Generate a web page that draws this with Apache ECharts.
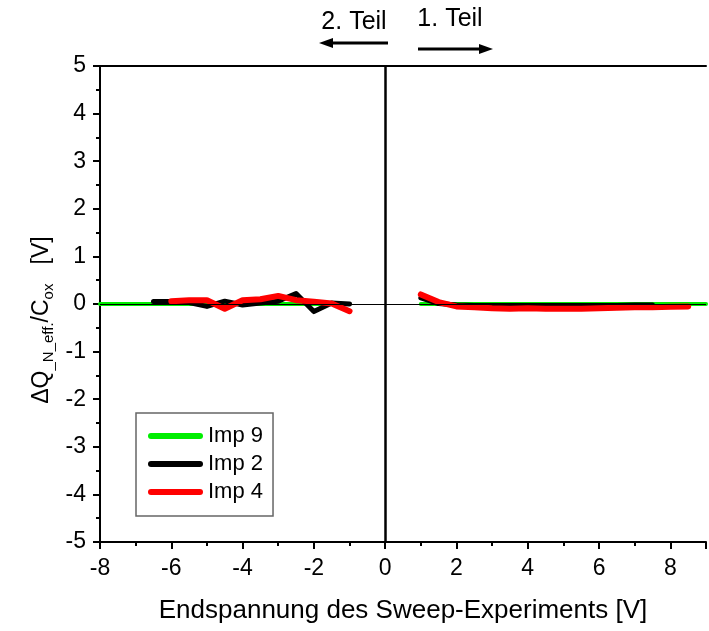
<!DOCTYPE html>
<html>
<head>
<meta charset="utf-8">
<script src="https://cdn.jsdelivr.net/npm/echarts@6/dist/echarts.min.js"></script>
<style>
html,body{margin:0;padding:0;background:#fff;}
#c{width:709px;height:631px;}
</style>
</head>
<body>
<div id="c"></div>
<script>
// ---- data ----
const xImp9Left  = [-8, -1];
const imp9Left   = [0, 0];
const xImp9Right = [1, 9];
const imp9Right  = [0, 0];

const xImp2Left  = [-6.5, -6, -5.5, -5, -4.5, -4, -3.5, -3, -2.5, -2, -1.5, -1];
const imp2Left   = [0.05, 0.05, 0.03, -0.05, 0.06, -0.02, 0.02, 0.06, 0.22, -0.16, 0.02, 0.0];
const xImp2Right = [1, 1.5, 2, 2.5, 3, 3.5, 4, 4.5, 5, 5.5, 6, 6.5, 7, 7.5];
const imp2Right  = [0.13, 0.01, -0.02, -0.03, -0.03, -0.03, -0.03, -0.03, -0.03, -0.03, -0.03, -0.03, -0.02, -0.02];

const xImp4Left  = [-6, -5.5, -5, -4.5, -4, -3.5, -3, -2.5, -2, -1.5, -1];
const imp4Left   = [0.06, 0.08, 0.08, -0.1, 0.08, 0.1, 0.17, 0.08, 0.05, 0.01, -0.15];
const xImp4Right = [1, 1.5, 2, 2.5, 3, 3.5, 4, 4.5, 5, 5.5, 6, 6.5, 7, 7.5, 8, 8.5];
const imp4Right  = [0.2, 0.04, -0.05, -0.07, -0.09, -0.1, -0.09, -0.1, -0.1, -0.1, -0.09, -0.08, -0.07, -0.07, -0.06, -0.05];

const seriesNames = ['Imp 9', 'Imp 2', 'Imp 4'];
const seriesColors = ['#00ee00', '#000000', '#ff0000'];
const xTitle = 'Endspannung des Sweep-Experiments [V]';
const leftNote = '2. Teil';
const rightNote = '1. Teil';

const FONT = '"Liberation Sans", Arial, Helvetica, sans-serif';
function pairs(xs, ys) { return xs.map((x, i) => [x, ys[i]]); }

function mkSeries(name, color, width, xs, ys, extra) {
  return Object.assign({
    name: name,
    type: 'line',
    data: pairs(xs, ys),
    symbol: 'none',
    showSymbol: false,
    color: color,
    lineStyle: { color: color, width: width, cap: 'round', join: 'round' },
    silent: true,
    clip: true,
    animation: false
  }, extra || {});
}

const LEGEND_ICON = 'path://M3,0 L52,0 A3,3 0 0 1 52,6 L3,6 A3,3 0 0 1 3,0 Z';

const chart = echarts.init(document.getElementById('c'), null, { renderer: 'canvas' });

const option = {
  animation: false,
  backgroundColor: '#fff',
  textStyle: { fontFamily: FONT },
  grid: { left: 100, top: 66, right: -7, bottom: 89, containLabel: false },
  xAxis: [{
    type: 'value', min: -8, max: 9, interval: 2,
    position: 'bottom',
    name: xTitle, nameLocation: 'middle', nameGap: 56,
    nameTextStyle: { fontSize: 26, color: '#000', fontFamily: FONT },
    axisLine: { show: true, onZero: false, lineStyle: { color: '#000', width: 2 } },
    axisTick: { show: true, inside: false, length: 7, lineStyle: { color: '#000', width: 2 } },
    minorTick: { show: true, splitNumber: 2, length: 4, lineStyle: { color: '#000', width: 2 } },
    axisLabel: { margin: 15, fontSize: 23, color: '#000', fontFamily: FONT,
      formatter: v => (v > 8.5 ? '' : String(v)) },
    splitLine: { show: false }
  }, {
    type: 'value', min: -8, max: 9, interval: 2,
    position: 'top',
    axisLine: { show: true, onZero: false, lineStyle: { color: '#000', width: 2 } },
    axisTick: { show: false }, axisLabel: { show: false }, splitLine: { show: false }
  }],
  yAxis: [{
    type: 'value', min: -5, max: 5, interval: 1,
    axisLine: { show: true, onZero: false, lineStyle: { color: '#000', width: 2 } },
    axisTick: { show: true, inside: false, length: 7, lineStyle: { color: '#000', width: 2 } },
    minorTick: { show: true, splitNumber: 2, length: 4, lineStyle: { color: '#000', width: 2 } },
    axisLabel: { margin: 14, fontSize: 23, color: '#000', fontFamily: FONT },
    splitLine: { show: false }
  }],
  legend: {
    show: true,
    left: 136, top: 413,
    orient: 'vertical',
    data: seriesNames.map((n, i) => ({ name: n, icon: LEGEND_ICON, itemStyle: { color: seriesColors[i] } })),
    itemWidth: 55, itemHeight: 6, itemGap: 4,
    padding: [11, 10, 12, 12],
    borderColor: '#666', borderWidth: 1.5,
    backgroundColor: '#fff',
    selectedMode: false,
    textStyle: { fontSize: 22, lineHeight: 24, color: '#000', fontFamily: FONT }
  },
  series: [
    mkSeries(seriesNames[0], seriesColors[0], 4, xImp9Left, imp9Left, {
      markLine: {
        silent: true, symbol: 'none', animation: false,
        label: { show: false },
        data: [
          { xAxis: 0, lineStyle: { color: '#000', width: 2.5, type: 'solid' } },
          { yAxis: 0, lineStyle: { color: '#000', width: 1, type: 'solid' } }
        ]
      },
      z: 1
    }),
    mkSeries(seriesNames[0], seriesColors[0], 4, xImp9Right, imp9Right, { z: 2 }),
    mkSeries(seriesNames[1], seriesColors[1], 5, xImp2Left, imp2Left, { z: 3 }),
    mkSeries(seriesNames[1], seriesColors[1], 5, xImp2Right, imp2Right, { z: 3 }),
    mkSeries(seriesNames[2], seriesColors[2], 6, xImp4Left, imp4Left, { z: 4 }),
    mkSeries(seriesNames[2], seriesColors[2], 6, xImp4Right, imp4Right, { z: 4 })
  ],
  graphic: [
    {
      type: 'text',
      x: 42, y: 320, rotation: Math.PI / 2,
      style: {
        text: '{m|ΔQ}{s|_N_eff.}{m|/C}{s|ox}{m|   [V]}',
        align: 'center', verticalAlign: 'middle',
        fill: '#000', font: '23px ' + FONT,
        rich: {
          m: { fontSize: 23, fontFamily: FONT, fill: '#000' },
          s: { fontSize: 15, fontFamily: FONT, fill: '#000', padding: [14, 0, 0, 0] }
        }
      }
    },
    {
      type: 'text', x: 354, y: 22,
      style: { text: leftNote, align: 'center', verticalAlign: 'middle', font: '25px ' + FONT, fill: '#000' }
    },
    {
      type: 'text', x: 450, y: 19,
      style: { text: rightNote, align: 'center', verticalAlign: 'middle', font: '25px ' + FONT, fill: '#000' }
    },
    { type: 'line', shape: { x1: 388, y1: 43, x2: 330, y2: 43 }, style: { stroke: '#000', lineWidth: 3 } },
    { type: 'polygon', shape: { points: [[319, 43], [333, 38], [333, 48]] }, style: { fill: '#000' } },
    { type: 'line', shape: { x1: 418, y1: 49, x2: 482, y2: 49 }, style: { stroke: '#000', lineWidth: 3 } },
    { type: 'polygon', shape: { points: [[493, 49], [479, 44], [479, 54]] }, style: { fill: '#000' } }
  ]
};
chart.setOption(option);
</script>
</body>
</html>
